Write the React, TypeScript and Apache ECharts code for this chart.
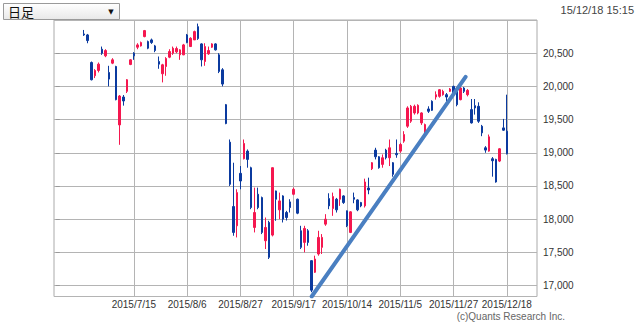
import React, { useEffect, useRef } from 'react';
import * as echarts from 'echarts';

const dates = [
  '2015/6/25','2015/6/26','2015/6/29','2015/6/30',
  '2015/7/1','2015/7/2','2015/7/3','2015/7/6','2015/7/7','2015/7/8','2015/7/9','2015/7/10','2015/7/13','2015/7/14','2015/7/15','2015/7/16','2015/7/17','2015/7/21','2015/7/22','2015/7/23','2015/7/24','2015/7/27','2015/7/28','2015/7/29','2015/7/30','2015/7/31',
  '2015/8/3','2015/8/4','2015/8/5','2015/8/6','2015/8/7','2015/8/10','2015/8/11','2015/8/12','2015/8/13','2015/8/14','2015/8/17','2015/8/18','2015/8/19','2015/8/20','2015/8/21','2015/8/24','2015/8/25','2015/8/26','2015/8/27','2015/8/28','2015/8/31',
  '2015/9/1','2015/9/2','2015/9/3','2015/9/4','2015/9/7','2015/9/8','2015/9/9','2015/9/10','2015/9/11','2015/9/14','2015/9/15','2015/9/16','2015/9/17','2015/9/18','2015/9/24','2015/9/25','2015/9/28','2015/9/29','2015/9/30',
  '2015/10/1','2015/10/2','2015/10/5','2015/10/6','2015/10/7','2015/10/8','2015/10/9','2015/10/13','2015/10/14','2015/10/15','2015/10/16','2015/10/19','2015/10/20','2015/10/21','2015/10/22','2015/10/23','2015/10/26','2015/10/27','2015/10/28','2015/10/29','2015/10/30',
  '2015/11/2','2015/11/4','2015/11/5','2015/11/6','2015/11/9','2015/11/10','2015/11/11','2015/11/12','2015/11/13','2015/11/16','2015/11/17','2015/11/18','2015/11/19','2015/11/20','2015/11/24','2015/11/25','2015/11/26','2015/11/27','2015/11/30',
  '2015/12/1','2015/12/2','2015/12/3','2015/12/4','2015/12/7','2015/12/8','2015/12/9','2015/12/10','2015/12/11','2015/12/14','2015/12/15','2015/12/16','2015/12/17','2015/12/18',
];

const opens = [
  20790,20775,20360,20160,20240,20560,20460,20210,20350,20300,19420,19840,19925,20330,20500,20590,20610,20750,20675,20700,20610,20375,20190,20300,20440,20500,
  20520,20475,20475,20775,20600,20700,20900,20640,20375,20490,20590,20640,20475,20250,19725,19160,18190,17900,18690,18910,19025,
  18775,17875,18375,18325,17675,17950,17760,18425,18140,18350,18100,18260,18375,18300,17825,17650,17825,17375,17200,
  17475,17575,17925,18310,18160,18300,18300,18350,18125,17800,18325,18290,18250,18200,18470,18760,19040,18940,18825,19040,18925,
  18850,18990,19025,19175,19400,19475,19600,19600,19450,19275,19660,19775,19840,19850,19875,19875,19925,20000,19950,
  19800,19975,19875,19650,19710,19700,19400,19075,19025,18910,18900,18875,19375,19325,
];
const closes = [
  20775,20690,20100,20240,20335,20500,20540,20110,20400,19800,19855,19780,20100,20400,20460,20625,20660,20840,20575,20660,20540,20335,20325,20420,20525,20575,
  20570,20550,20625,20660,20725,20825,20720,20400,20600,20540,20640,20550,20225,20035,19440,18525,17800,18400,18575,19140,18900,
  18175,18100,18175,17800,17875,17425,18775,18300,18275,18000,18025,18175,18450,18090,17575,17860,17650,16930,17400,
  17725,17725,18000,18200,18340,18140,18450,18250,17900,18110,18300,18140,18200,18560,18440,18850,18940,18775,18925,18925,19075,
  18675,18970,19125,19275,19675,19700,19700,19715,19600,19425,19625,19640,19875,19950,19925,19840,19960,19900,19725,
  19975,19925,19940,19450,19675,19475,19300,19040,19240,18880,18560,19060,19340,18985,
];
const lows = [
  20760,20650,20090,20125,20210,20475,20440,20000,20335,19790,19120,19710,19900,20320,20400,20560,20600,20740,20560,20640,20515,20265,20060,20160,20425,20475,
  20500,20400,20470,20650,20700,20800,20700,20300,20310,20475,20580,20540,20200,20000,19430,18500,17750,17725,18450,18900,18775,
  18150,17800,18150,17775,17550,17400,17740,17975,18000,17950,17980,18100,18360,18075,17550,17500,17600,16900,17190,
  17450,17475,17900,18150,18050,18100,18200,18230,17880,17790,18240,18120,18180,18175,18375,18740,18900,18760,18775,18900,18800,
  18640,18925,19000,19150,19375,19450,19575,19580,19420,19250,19600,19630,19800,19830,19860,19775,19915,19890,19700,
  19790,19900,19850,19440,19575,19450,19250,19000,19015,18640,18550,18860,19330,18975,
];
const highs = [
  20850,20790,20375,20260,20360,20600,20560,20310,20425,20310,19870,19870,20110,20410,20515,20650,20675,20850,20690,20720,20625,20450,20340,20440,20560,20600,
  20600,20560,20640,20790,20740,20840,20946,20650,20650,20600,20650,20650,20500,20275,19735,19200,18850,18450,18800,19200,19050,
  18790,18475,18475,18340,18025,17975,18780,18430,18400,18360,18125,18300,18475,18310,17900,17900,17850,17380,17450,
  17825,17775,18075,18390,18400,18320,18460,18360,18130,18120,18400,18300,18260,18610,18625,18860,19075,18950,18975,19060,19200,
  18860,19200,19150,19325,19700,19720,19725,19730,19610,19440,19700,19790,19925,19960,19950,19900,19975,20010,19960,
  20000,19990,19960,19810,19810,19760,19420,19100,19275,18935,18910,19070,19510,19875,
];

const labelDates = ['2015/7/15','2015/8/6','2015/8/27','2015/9/17','2015/10/14','2015/11/5','2015/11/27','2015/12/18'];
const yTicks = [17000, 17500, 18000, 18500, 19000, 19500, 20000, 20500];
// trend line endpoints: [trading-day index (fractional), price]
const trendPoints = [[64.06, 16835], [107.4, 20142]];

const PAD = 8;

export default function App() {
  const ref = useRef<HTMLDivElement>(null);
  useEffect(() => {
    if (!ref.current) return;
    const chart = echarts.init(ref.current, undefined, { renderer: 'svg' });
    const padL = Array.from({ length: PAD }, (_, i) => 'padL' + i);
    const padR = Array.from({ length: PAD }, (_, i) => 'padR' + i);
    const categories = [...padL, ...dates, ...padR];
    const empty = ['-', '-', '-', '-'];
    const rows = dates.map((_, i) => [opens[i], closes[i], lows[i], highs[i]]);
    const candleData = [
      ...padL.map(() => empty),
      ...rows,
      ...padR.map(() => empty),
    ];
    const labelSet = new Set(labelDates);
    const font = '"Liberation Sans", Arial, sans-serif';
    const option: any = {
      animation: false,
      backgroundColor: '#ffffff',
      grid: {
        left: 54, right: 103, top: 20, bottom: 33.5,
        show: true, borderColor: '#aaaaaa', borderWidth: 1, backgroundColor: '#ffffff',
      },
      xAxis: [
        {
          type: 'category',
          data: categories,
          boundaryGap: true,
          axisLine: { show: false },
          axisTick: { show: false },
          splitLine: { show: false },
          axisLabel: {
            interval: (_i: number, v: string) => labelSet.has(v),
            color: '#333', fontSize: 10, fontFamily: font, margin: 3,
          },
        },
        {
          type: 'value',
          min: -0.5,
          max: categories.length - 0.5,
          show: false,
        },
      ],
      yAxis: {
        type: 'value',
        position: 'right',
        min: 16835,
        max: 21000,
        splitNumber: 8,
        scale: true,
        axisLine: { show: false },
        axisTick: { show: true, length: 4, lineStyle: { color: '#999' } },
        splitLine: { show: true, lineStyle: { color: '#b4b4b4', width: 1 } },
        axisLabel: {
          showMinLabel: false, showMaxLabel: false,
          color: '#333', fontSize: 10, fontFamily: font, margin: 6,
          formatter: (v: number) => (yTicks.includes(v) ? v.toLocaleString('en-US') : ''),
        },
      },
      series: [
        {
          type: 'line',
          xAxisIndex: 1,
          data: [],
          z: 1,
          markLine: {
            z: 1,
            silent: true,
            animation: false,
            symbol: ['none', 'none'],
            label: { show: false },
            lineStyle: { color: '#b4b4b4', width: 1, type: 'solid' },
            data: labelDates.map((d) => ({ xAxis: dates.indexOf(d) + PAD })),
          },
        },
        {
          type: 'candlestick',
          xAxisIndex: 0,
          z: 3,
          barWidth: 2,
          data: candleData,
          itemStyle: {
            color: '#f5174f',
            color0: '#0b3a9f',
            borderColor: '#f5174f',
            borderColor0: '#0b3a9f',
            borderWidth: 1,
          },
        },
        {
          type: 'line',
          xAxisIndex: 1,
          z: 5,
          symbol: 'none',
          data: trendPoints.map(([x, y]) => [x + PAD, y]),
          lineStyle: { color: '#4a7fc1', width: 4, cap: 'round' },
        },
      ],
      graphic: [
        {
          type: 'rect',
          shape: { x: 3.5, y: 3.5, width: 116, height: 16 },
          style: {
            fill: new echarts.graphic.LinearGradient(0, 0, 0, 1, [
              { offset: 0, color: '#ffffff' },
              { offset: 1, color: '#e8e8e8' },
            ]),
            stroke: '#9a9a9a', lineWidth: 1,
          },
        },
        {
          type: 'text', x: 8, y: 11.5,
          style: { text: '日足', font: '13px "Noto Sans CJK JP"', fill: '#111', verticalAlign: 'middle' },
        },
        {
          type: 'text', x: 111, y: 11.5,
          style: { text: '▼', font: '7px "DejaVu Sans"', fill: '#111', align: 'center', verticalAlign: 'middle' },
        },
        {
          type: 'text', x: 634, y: 10,
          style: { text: '15/12/18 15:15', font: '11px ' + font, fill: '#444', align: 'right', verticalAlign: 'middle' },
        },
        {
          type: 'text', x: 565, y: 316,
          style: { text: '(c)Quants Research Inc.', font: '10px ' + font, fill: '#666', align: 'right', verticalAlign: 'middle' },
        },
      ],
    };
    chart.setOption(option);
    return () => chart.dispose();
  }, []);
  return (
    <div
      ref={ref}
      style={{ position: 'absolute', left: 0, top: 0, width: 640, height: 330 }}
    />
  );
}
